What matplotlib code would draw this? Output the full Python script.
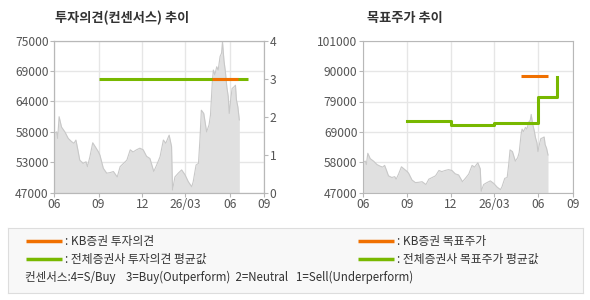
import numpy as np
import pandas as pd
import matplotlib
matplotlib.use("Agg")
import matplotlib.pyplot as plt
import matplotlib.dates as mdates

plt.rcParams['font.family'] = ['Noto Sans CJK KR', 'DejaVu Sans']

# daily close
price_dates = [
    "2025-06-01", "2025-06-06", "2025-06-08", "2025-06-11", "2025-06-16", "2025-06-23",
    "2025-06-30", "2025-07-07", "2025-07-12", "2025-07-16", "2025-07-20", "2025-07-24",
    "2025-07-31", "2025-08-06", "2025-08-09", "2025-08-14", "2025-08-20", "2025-08-25",
    "2025-09-01", "2025-09-04", "2025-09-11", "2025-09-18", "2025-09-25", "2025-10-02",
    "2025-10-10", "2025-10-16", "2025-10-23", "2025-10-30", "2025-11-06", "2025-11-12",
    "2025-11-19", "2025-11-26", "2025-12-03", "2025-12-10", "2025-12-17", "2025-12-25",
    "2025-12-31", "2026-01-07", "2026-01-14", "2026-01-19", "2026-01-26", "2026-01-31",
    "2026-02-02", "2026-02-07", "2026-02-14", "2026-02-21", "2026-02-28", "2026-03-07",
    "2026-03-14", "2026-03-17", "2026-03-23", "2026-03-28", "2026-03-31", "2026-04-03",
    "2026-04-08", "2026-04-14", "2026-04-19", "2026-04-22", "2026-04-26", "2026-04-28",
    "2026-05-01", "2026-05-05", "2026-05-08", "2026-05-12", "2026-05-15", "2026-05-17",
    "2026-05-20", "2026-05-23", "2026-05-26", "2026-05-29", "2026-05-31", "2026-06-03",
    "2026-06-06", "2026-06-10", "2026-06-13", "2026-06-15", "2026-06-18", "2026-06-21",
]
price_values = [
    57900, 58200, 57000, 61000, 59100, 58200,
    57000, 56400, 56100, 56700, 54900, 53000,
    52400, 52700, 51800, 53600, 56200, 55500,
    54500, 53900, 51500, 50600, 50700, 50900,
    49900, 51800, 52400, 53000, 54900, 54500,
    54900, 55200, 54900, 53700, 53300, 50900,
    52100, 53600, 56700, 56100, 57600, 55500,
    47500, 49900, 50600, 51200, 50300, 49000,
    48100, 49000, 52100, 52400, 56700, 62200,
    61600, 58200, 59500, 61300, 67700, 69600,
    68700, 70200, 69600, 72100, 72700, 74800,
    71400, 69300, 66500, 64700, 61600, 64100,
    66200, 66500, 66800, 64100, 62800, 60400,
]

# investment opinion (consensus, 4=S/Buy ... 1=Sell)
opinion_avg_dates = ["2025-09-01", "2026-07-09"]
opinion_avg_values = [3, 3]
opinion_kb_dates = ["2026-04-26", "2026-06-19"]
opinion_kb_values = [3, 3]

# target price
target_avg_dates = ["2025-09-01", "2025-12-01", "2026-03-01", "2026-06-01", "2026-07-09"]
target_avg_values = [72500, 71200, 71900, 81000, 88000]
target_kb_dates = ["2026-04-26", "2026-06-20"]
target_kb_values = [88500, 88500]

tick_dates = ["2025-06-01", "2025-09-01", "2025-12-01", "2026-03-01", "2026-06-01", "2026-08-12"]
tick_labels = ["06", "09", "12", "26/03", "06", "09"]

left_yticks = [47000, 52600, 58200, 63800, 69400, 75000]
left_ylabels = ["47000", "53000", "58000", "64000", "69000", "75000"]
right_yticks = [47000, 57800, 68600, 79400, 90200, 101000]
right_ylabels = ["47000", "58000", "69000", "79000", "90000", "101000"]

ORANGE = "#f07000"
GREEN = "#78b800"
GRID = "#e6e6e6"
SPINE = "#b8b8b8"
TXT = "#555555"

px = pd.to_datetime(price_dates)
py = np.array(price_values)
xt = pd.to_datetime(tick_dates)
xlim = (xt[0], xt[-1])

fig = plt.figure(figsize=(5.9, 3.0), dpi=100)


def base_axes(rect, yticks, ylabels):
    ax = fig.add_axes(rect)
    ax.set_xlim(*xlim)
    ax.set_ylim(yticks[0], yticks[-1])
    ax.set_xticks(xt)
    ax.set_xticklabels(tick_labels)
    ax.set_yticks(yticks)
    ax.set_yticklabels(ylabels)
    ax.grid(True, color=GRID, lw=1)
    ax.set_axisbelow(True)
    for s in ax.spines.values():
        s.set_color(SPINE)
    ax.tick_params(colors=SPINE, labelcolor=TXT, labelsize=8.7, length=3, pad=1)
    ax.fill_between(px, py, yticks[0], color="#e0e0e0", lw=0, zorder=1)
    ax.plot(px, py, color="#c8c8c8", lw=0.8, zorder=2)
    return ax


# left: opinion chart
ax1 = base_axes([54.3 / 590, 1 - 192.7 / 300, 210 / 590, 152 / 300], left_yticks, left_ylabels)
ax1b = ax1.twinx()
ax1b.set_ylim(0, 4)
ax1b.set_yticks([0, 1, 2, 3, 4])
ax1b.tick_params(colors=SPINE, labelcolor=TXT, labelsize=8.7, length=3, pad=1)
for s in ax1b.spines.values():
    s.set_color(SPINE)
ax1b.plot(pd.to_datetime(opinion_avg_dates), opinion_avg_values, color=GREEN, lw=2.2, solid_capstyle="butt")
ax1b.plot(pd.to_datetime(opinion_kb_dates), opinion_kb_values, color=ORANGE, lw=2.2, solid_capstyle="butt")
fig.text(55 / 590, 1 - 18 / 300, "투자의견(컨센서스) 추이", fontsize=9.5, fontweight="bold",
         color="#333333", va="center")

# right: target price chart
ax2 = base_axes([363 / 590, 1 - 192.7 / 300, 210 / 590, 152 / 300], right_yticks, right_ylabels)
ax2.plot(pd.to_datetime(target_avg_dates), target_avg_values, color=GREEN, lw=2.2,
         drawstyle="steps-post", zorder=3)
ax2.plot(pd.to_datetime(target_kb_dates), target_kb_values, color=ORANGE, lw=2.2,
         solid_capstyle="butt", zorder=3)
fig.text(367 / 590, 1 - 18 / 300, "목표주가 추이", fontsize=9.5, fontweight="bold",
         color="#333333", va="center")

# legend box
lg = fig.add_axes([8 / 590, 1 - 293 / 300, 575 / 590, 65 / 300])
lg.set_xlim(0, 575)
lg.set_ylim(65, 0)
lg.set_xticks([])
lg.set_yticks([])
lg.set_facecolor("#f8f8f8")
for s in lg.spines.values():
    s.set_color("#dddddd")

legend_items = [
    (18, 13, ORANGE, ": KB증권 투자의견"),
    (350, 13, ORANGE, ": KB증권 목표주가"),
    (18, 31, GREEN, ": 전체증권사 투자의견 평균값"),
    (350, 31, GREEN, ": 전체증권사 목표주가 평균값"),
]
for x0, y0, c, label in legend_items:
    lg.plot([x0, x0 + 36], [y0, y0], color=c, lw=2.5, solid_capstyle="butt")
    lg.text(x0 + 39, y0, label, fontsize=8.5, color="#333333", va="center")
lg.text(17, 49, "컨센서스:4=S/Buy    3=Buy(Outperform)  2=Neutral   1=Sell(Underperform)",
        fontsize=8.3, color="#333333", va="center")

fig.savefig("out.png", dpi=100)
